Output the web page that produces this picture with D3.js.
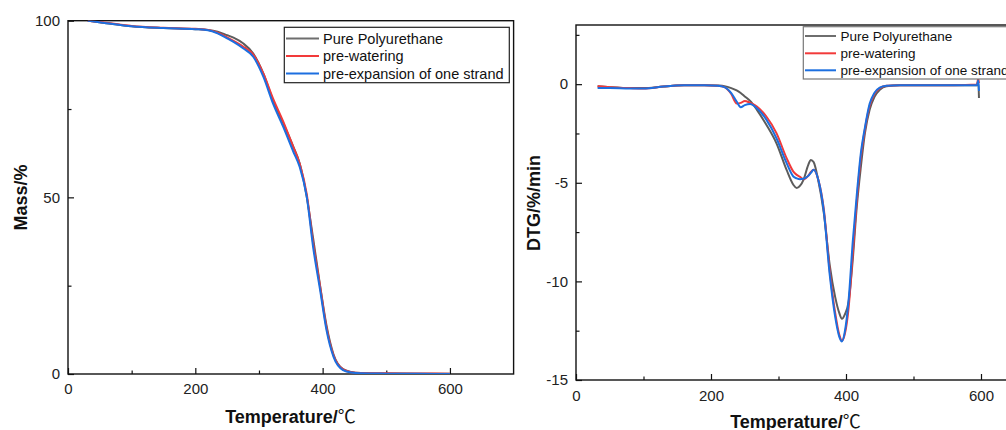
<!DOCTYPE html>
<html>
<head>
<meta charset="utf-8">
<script src="https://cdn.jsdelivr.net/npm/d3@7/dist/d3.min.js"></script>
<style>
  html, body { margin: 0; padding: 0; background: #fff; }
  svg { display: block; font-family: "Liberation Sans", Arial, sans-serif; }
</style>
</head>
<body>
<svg id="chart" width="1006" height="430"></svg>
<script>
// ---------------- DATA ----------------
const seriesNames = ["Pure Polyurethane", "pre-watering", "pre-expansion of one strand"];

// TGA (left panel)
const tgaTemp = [31, 60, 100, 150, 200, 220, 235, 250, 260, 275, 291, 307, 322, 338, 354, 364, 375, 385, 396, 406, 417, 432, 445, 460, 500, 550, 600];
const tgaPure = [100, 99.3, 98.4, 97.9, 97.6, 97.4, 96.9, 95.9, 95.2, 93.6, 90.7, 85.0, 77.5, 71.0, 64.3, 59.6, 50.2, 38.5, 25.0, 13.8, 5.6, 1.4, 0.6, 0.3, 0.15, 0.1, 0.05];
const tgaWater = [100, 99.4, 98.5, 98.0, 97.7, 97.4, 96.6, 95.3, 94.3, 92.7, 90.4, 85.0, 78.0, 71.5, 64.2, 59.5, 51.0, 37.2, 24.8, 13.2, 5.3, 1.3, 0.5, 0.3, 0.2, 0.15, 0.1];
const tgaExpand = [100, 99.3, 98.4, 97.9, 97.6, 97.3, 96.4, 95.0, 94.0, 92.2, 89.8, 84.1, 76.6, 70.0, 62.9, 58.6, 50.2, 36.0, 23.8, 12.5, 4.9, 1.1, 0.4, 0.2, 0.1, 0.05, 0.02];

// DTG (right panel)
const dtgTemp = [32, 50, 80, 100, 130, 160, 190, 210, 220, 230, 238, 244, 250, 258, 268, 282, 297, 312, 322, 327, 332, 337, 344, 348, 352, 359, 367, 376, 384, 390, 394, 398, 404, 410, 416, 422, 428, 435, 442, 450, 460, 480, 520, 560, 594, 596, 597];
const dtgPure = [-0.1, -0.15, -0.2, -0.2, -0.12, -0.06, -0.05, -0.07, -0.1, -0.2, -0.32, -0.45, -0.62, -0.85, -1.3, -2.06, -3.0, -4.35, -5.1, -5.27, -5.15, -4.85, -4.1, -3.84, -3.95, -4.9, -6.5, -9.2, -10.8, -11.6, -11.9, -11.7, -11.0, -8.9, -6.2, -4.2, -2.5, -1.3, -0.65, -0.28, -0.1, -0.05, -0.05, -0.05, -0.05, 0.15, -0.7];
const dtgWater = [-0.1, -0.15, -0.2, -0.22, -0.12, -0.06, -0.05, -0.08, -0.15, -0.5, -0.98, -0.95, -0.85, -0.95, -1.13, -1.64, -2.48, -3.75, -4.43, -4.6, -4.7, -4.82, -4.65, -4.45, -4.34, -4.85, -6.3, -9.5, -11.6, -12.7, -13.0, -12.7, -11.3, -8.6, -5.9, -3.7, -2.3, -1.1, -0.5, -0.2, -0.08, -0.05, -0.05, -0.05, -0.02, 0.3, 0.05];
const dtgExpand = [-0.2, -0.2, -0.22, -0.22, -0.12, -0.06, -0.05, -0.08, -0.15, -0.45, -0.88, -1.17, -1.06, -1.0, -1.22, -1.8, -2.74, -4.0, -4.68, -4.78, -4.82, -4.8, -4.65, -4.5, -4.34, -4.85, -6.4, -9.7, -11.8, -12.8, -13.05, -12.6, -10.9, -8.0, -5.6, -3.5, -2.2, -1.0, -0.45, -0.18, -0.08, -0.05, -0.05, -0.05, -0.05, 0.2, -0.35];

const xTicksMajor = [0, 200, 400, 600];
const xTicksMinor = [100, 300, 500];
const tgaTicksMajor = [0, 50, 100];
const tgaTicksMinor = [25, 75];
const dtgTicksMajor = [0, -5, -10, -15];
const dtgTicksMinor = [2.5, -2.5, -7.5, -12.5];

const colors = ["#5c5c5c", "#f23a3a", "#1c6fe0"];
const legendColors = ["#6e6e6e", "#f23a3a", "#1c6fe0"];

// ---------------- DRAW ----------------
const svg = d3.select("#chart");
const fmt = d => String(d);

function panel(cfg) {
  const x = d3.scaleLinear().domain([0, 700]).range([cfg.left, cfg.left + cfg.xLen]);
  const y = d3.scaleLinear().domain(cfg.yDomain).range([cfg.bottom, cfg.top]);
  const g = svg.append("g");

  const clipId = "clip" + cfg.id;
  svg.append("clipPath").attr("id", clipId).append("rect")
    .attr("x", cfg.left).attr("y", cfg.top)
    .attr("width", cfg.xLen).attr("height", cfg.bottom - cfg.top);

  const xMajor = d3.axisBottom(x).tickValues(xTicksMajor).tickSize(-6).tickPadding(cfg.xPad).tickFormat(fmt);
  const xMinor = d3.axisBottom(x).tickValues(xTicksMinor).tickSize(-3.5).tickFormat("");
  const yMajor = d3.axisLeft(y).tickValues(cfg.yMajor).tickSize(-6).tickPadding(8).tickFormat(fmt);
  const yMinor = d3.axisLeft(y).tickValues(cfg.yMinor).tickSize(-3.5).tickFormat("");

  [xMajor, xMinor].forEach(ax => {
    const a = g.append("g").attr("transform", `translate(0,${cfg.bottom})`).call(ax);
    a.select(".domain").remove();
    a.selectAll("line").attr("stroke", "#111").attr("stroke-width", 1.2);
    a.selectAll("text").attr("font-size", 15).attr("fill", "#222")
      .attr("font-family", "Liberation Sans, Arial, sans-serif");
  });
  [yMajor, yMinor].forEach(ax => {
    const a = g.append("g").attr("transform", `translate(${cfg.left},0)`).call(ax);
    a.select(".domain").remove();
    a.selectAll("line").attr("stroke", "#111").attr("stroke-width", 1.2);
    a.selectAll("text").attr("font-size", 15).attr("fill", "#222")
      .attr("font-family", "Liberation Sans, Arial, sans-serif");
  });

  g.append("rect")
    .attr("x", cfg.left).attr("y", cfg.top)
    .attr("width", cfg.xLen).attr("height", cfg.bottom - cfg.top)
    .attr("fill", "none").attr("stroke", "#111").attr("stroke-width", 1.4);

  const line = d3.line().x(d => x(d[0])).y(d => y(d[1])).curve(d3.curveMonotoneX);
  const cg = g.append("g").attr("clip-path", `url(#${clipId})`);
  cfg.series.forEach((vals, i) => {
    const pts = cfg.temps.map((t, j) => [t, vals[j]]);
    cg.append("path").datum(pts)
      .attr("d", line)
      .attr("fill", "none")
      .attr("stroke", colors[i])
      .attr("stroke-width", 2)
      .attr("stroke-linejoin", "round");
  });

  const L = cfg.legend;
  g.append("rect")
    .attr("x", L.x).attr("y", L.y).attr("width", L.w).attr("height", L.h)
    .attr("fill", "#fff").attr("stroke", L.stroke).attr("stroke-width", 1.2);
  seriesNames.forEach((name, i) => {
    const cy = L.rows[i];
    g.append("line")
      .attr("x1", L.lx1).attr("x2", L.lx2).attr("y1", cy).attr("y2", cy)
      .attr("stroke", legendColors[i]).attr("stroke-width", 2);
    g.append("text")
      .attr("x", L.tx).attr("y", cy).attr("dy", "0.35em")
      .attr("font-size", L.fs).attr("fill", "#111").text(name);
  });

  const xt = g.append("text")
    .attr("x", cfg.xTitle[0]).attr("y", cfg.xTitle[1])
    .attr("text-anchor", "middle").attr("font-weight", "bold").attr("font-size", 18)
    .attr("fill", "#111");
  xt.append("tspan").text("Temperature/");
  xt.append("tspan").attr("font-family", "Noto Sans CJK SC, DejaVu Sans, sans-serif")
    .attr("font-weight", "normal").text("℃");

  g.append("text")
    .attr("transform", `translate(${cfg.yTitle[0]},${cfg.yTitle[1]}) rotate(-90)`)
    .attr("text-anchor", "middle").attr("font-weight", "bold").attr("font-size", 18)
    .attr("fill", "#111").text(cfg.yLabel);
}

panel({
  id: "tga",
  left: 68, xLen: 445.6, top: 20.7, bottom: 374,
  yDomain: [0, 100], yMajor: tgaTicksMajor, yMinor: tgaTicksMinor,
  xPad: 9,
  temps: tgaTemp, series: [tgaPure, tgaWater, tgaExpand],
  legend: { x: 284.3, y: 27.3, w: 225, h: 55.4, stroke: "#222",
            rows: [38.5, 56, 73.5], lx1: 286, lx2: 319, tx: 323, fs: 14.5 },
  xTitle: [290.5, 423], yTitle: [27, 197.5], yLabel: "Mass/%"
});

panel({
  id: "dtg",
  left: 576, xLen: 472.5, top: 25, bottom: 380,
  yDomain: [-15, 3], yMajor: dtgTicksMajor, yMinor: dtgTicksMinor,
  xPad: 10,
  temps: dtgTemp, series: [dtgPure, dtgWater, dtgExpand],
  legend: { x: 803.3, y: 26.7, w: 260, h: 52.3, stroke: "#777",
            rows: [36, 53.3, 70.3], lx1: 805, lx2: 836, tx: 840.5, fs: 13.5 },
  xTitle: [795.5, 428], yTitle: [540, 203], yLabel: "DTG/%/min"
});
</script>
</body>
</html>
